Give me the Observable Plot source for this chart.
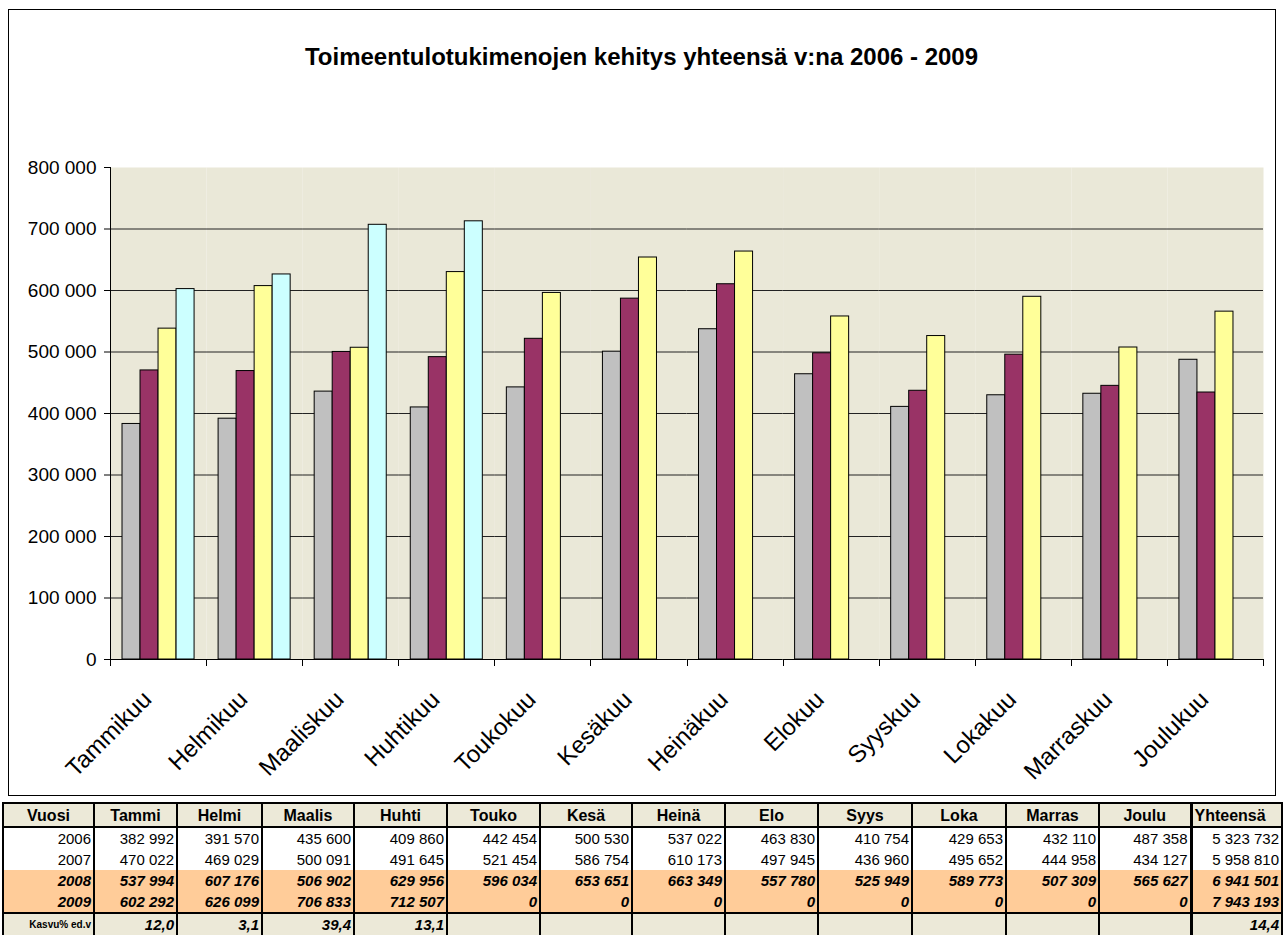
<!DOCTYPE html>
<html>
<head>
<meta charset="utf-8">
<script src="https://cdn.jsdelivr.net/npm/d3@7"></script>
<script src="https://cdn.jsdelivr.net/npm/@observablehq/plot@0.6"></script>
<style>
  body { margin: 0; background: #fff; font-family: "Liberation Sans", Arial, sans-serif; }
  #wrap { position: relative; width: 1283px; height: 938px; overflow: hidden; }
  #chart { position: absolute; left: 0; top: 0; }
  #border { position: absolute; left: 8px; top: 9px; width: 1266px; height: 785px; border: 1px solid #000; pointer-events: none; }
  #title { position: absolute; left: 0; top: 43px; width: 1283px; text-align: center; font-weight: bold; font-size: 24px; color: #000; }
  table { position: absolute; left: 2px; top: 802px; border-collapse: collapse; table-layout: fixed; font-size: 15px; color: #000; }
  th, td { padding: 0 2px; height: 21px; border-left: 2px solid #000; border-right: 2px solid #000; white-space: nowrap; overflow: hidden; line-height: 21px; }
  th { background: #ece9d8; font-weight: bold; text-align: center; border-top: 2px solid #000; border-bottom: 2px solid #000; height: 22px; font-size: 16px; }
  td { text-align: right; background: #fff; }
  tr.o td { background: #ffcc99; font-weight: bold; font-style: italic; }
  tr.k td { background: #ece9d8; font-weight: bold; font-style: italic; border-top: 2px solid #000; }
  tr.k td.lab { font-size: 10px; font-style: normal; text-align: right; }
  .tot { border-left: 3px solid #000; }
  th.tot { text-align: left; }
</style>
</head>
<body>
<div id="wrap">
  <div id="chart"></div>
  <div id="title">Toimeentulotukimenojen kehitys yhteensä v:na 2006 - 2009</div>
  <div id="border"></div>
</div>
<script>
const months = ["Tammikuu","Helmikuu","Maaliskuu","Huhtikuu","Toukokuu","Kesäkuu","Heinäkuu","Elokuu","Syyskuu","Lokakuu","Marraskuu","Joulukuu"];
const shortMonths = ["Tammi","Helmi","Maalis","Huhti","Touko","Kesä","Heinä","Elo","Syys","Loka","Marras","Joulu"];
const years = ["2006","2007","2008","2009"];
const v2006 = [382992,391570,435600,409860,442454,500530,537022,463830,410754,429653,432110,487358];
const v2007 = [470022,469029,500091,491645,521454,586754,610173,497945,436960,495652,444958,434127];
const v2008 = [537994,607176,506902,629956,596034,653651,663349,557780,525949,589773,507309,565627];
const v2009 = [602292,626099,706833,712507,0,0,0,0,0,0,0,0];
const totals = [5323732,5958810,6941501,7943193];
const kasvu = ["12,0","3,1","39,4","13,1","","","","","","","",""];
const kasvuTotal = "14,4";
const yTicks = [0,100000,200000,300000,400000,500000,600000,700000,800000];
const colors = ["#c0c0c0","#993366","#ffff99","#ccffff"];
const colEdges = [2,93,176,261,353,446,539,631,724,817,911,1005,1098,1190,1281];

const series = [v2006, v2007, v2008, v2009];
const data = months.flatMap((m, i) => years.map((y, j) => ({month: m, year: y, value: series[j][i]})))
  .filter(d => d.value > 0);
const fmt = d => d3.format(",")(d).replace(/,/g, " ");

const plot = Plot.plot({
  width: 1283, height: 800,
  marginLeft: 110, marginRight: 20, marginTop: 167, marginBottom: 141,
  style: {fontFamily: "Liberation Sans, Arial, sans-serif", background: "transparent", color: "#000"},
  fx: {domain: months, paddingInner: 0, paddingOuter: 0, label: null, round: false},
  x: {domain: years, paddingInner: 0, paddingOuter: 0.6667, axis: null, round: false},
  y: {domain: [0, 800000], axis: null},
  color: {domain: years, range: colors},
  marks: [
    Plot.frame({fill: "#eae8d8", stroke: "none"}),
    Plot.gridY(yTicks.filter(t => t > 0 && t < 800000), {stroke: "#222", strokeOpacity: 1}),
    Plot.barY(data, {fx: "month", x: "year", y: "value", fill: "year", stroke: "#000", strokeWidth: 1}),
    Plot.ruleY([0], {stroke: "#000"}),
    Plot.axisY(yTicks, {tickFormat: fmt, tickSize: 6, tickPadding: 8, fontSize: 19, label: null}),
    Plot.axisFx({anchor: "bottom", tickSize: 0, tickRotate: -45, fontSize: 24, tickPadding: 36, dx: -11, label: null})
  ]
});

// axis line and category boundary ticks
const svg = d3.select(plot);
const fxs = plot.scale("fx"), ys = plot.scale("y");
const xs = months.map(m => fxs.apply(m));
xs.push(fxs.apply(months[months.length - 1]) + fxs.bandwidth);
const y0 = ys.apply(0), yTop = ys.apply(800000);
const g = svg.append("g").attr("stroke", "#000").attr("stroke-width", 1);
g.append("line").attr("x1", Math.round(xs[0]) + 0.5).attr("x2", Math.round(xs[0]) + 0.5).attr("y1", yTop).attr("y2", y0);
g.selectAll("line.tk").data(xs).join("line").attr("class", "tk")
  .attr("x1", d => Math.round(d) + 0.5).attr("x2", d => Math.round(d) + 0.5)
  .attr("y1", y0).attr("y2", y0 + 7);
document.getElementById("chart").appendChild(plot);

// table
const table = document.createElement("table");
const cg = document.createElement("colgroup");
for (let i = 0; i < colEdges.length - 1; i++) {
  const c = document.createElement("col");
  c.style.width = (colEdges[i + 1] - colEdges[i]) + "px";
  cg.appendChild(c);
}
table.appendChild(cg);
const head = document.createElement("tr");
["Vuosi", ...shortMonths, "Yhteensä"].forEach((t, i, a) => {
  const th = document.createElement("th");
  th.textContent = t;
  if (i === a.length - 1) th.className = "tot";
  head.appendChild(th);
});
table.appendChild(head);
series.forEach((s, j) => {
  const tr = document.createElement("tr");
  if (j >= 2) tr.className = "o";
  [years[j], ...s.map(fmt), fmt(totals[j])].forEach((t, i, a) => {
    const td = document.createElement("td");
    td.textContent = t;
    if (i === a.length - 1) td.className = "tot";
    tr.appendChild(td);
  });
  table.appendChild(tr);
});
const kr = document.createElement("tr");
kr.className = "k";
["Kasvu% ed.v", ...kasvu, kasvuTotal].forEach((t, i, a) => {
  const td = document.createElement("td");
  td.textContent = t;
  if (i === 0) td.className = "lab";
  if (i === a.length - 1) td.className = "tot";
  kr.appendChild(td);
});
table.appendChild(kr);
document.getElementById("wrap").appendChild(table);
</script>
</body>
</html>
